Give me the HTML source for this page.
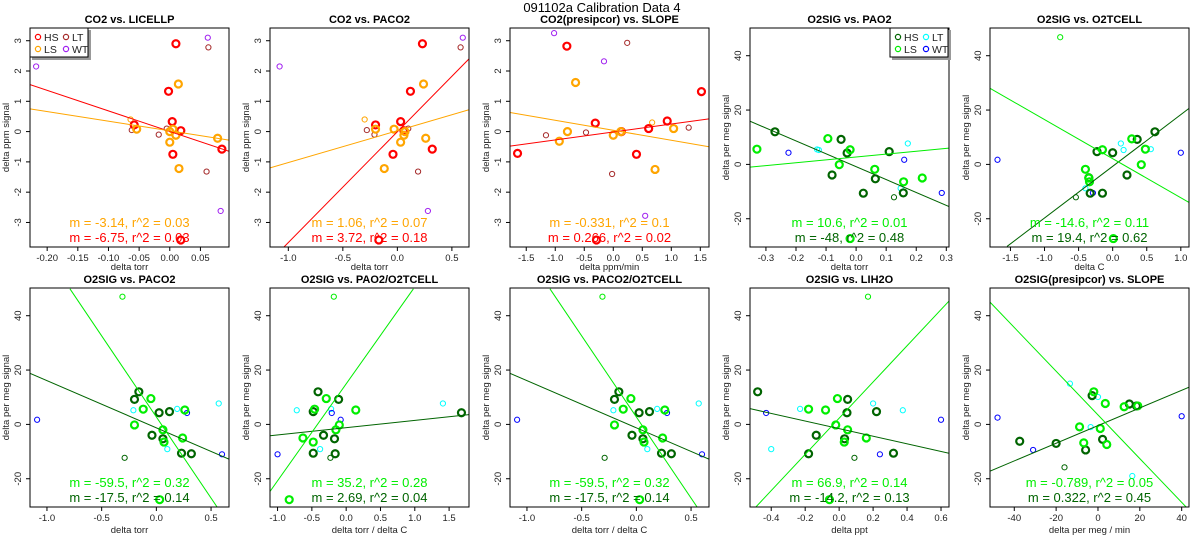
<!DOCTYPE html>
<html><head><meta charset="utf-8"><style>
body{margin:0;background:#fff;width:1200px;height:550px;overflow:hidden}
svg text{font-family:"Liberation Sans",Arial,sans-serif}
</style></head><body>
<svg id="chart" width="1200" height="550" xmlns="http://www.w3.org/2000/svg">
<text x="602" y="12" text-anchor="middle" font-size="13">091102a   Calibration Data 4</text>
</svg>
<script>
// ---- Panel data (x, y in data units) ----
const p1_hs=[[0.01,2.9],[-0.002,1.33],[0.004,0.33],[-0.058,0.22],[0.018,0.03],[0.005,-0.75],[0.085,-0.58],[0.018,-3.58]];
const p1_ls=[[0.014,1.57],[-0.054,0.08],[0.005,0.08],[0.0,0.0],[0.01,-0.12],[0.0,-0.35],[0.078,-0.22],[0.015,-1.22]];
const p1_lst=[[-0.064,0.4]];
const p1_lt=[[-0.062,0.05],[-0.018,-0.1],[-0.005,0.1],[0.063,2.78],[0.06,-1.32]];
const p1_wt=[[-0.218,2.15],[0.062,3.1],[0.083,-2.62]];
const p1_lines=[[-0.228,1.55,0.0966,-0.65],[-0.228,0.75,0.0966,-0.28]];

const p2_hs=[[0.23,2.9],[0.12,1.33],[0.03,0.33],[-0.2,0.22],[-0.04,-0.75],[0.32,-0.58],[-0.17,-3.58],[0.06,0.03]];
const p2_ls=[[0.24,1.57],[-0.2,0.08],[-0.03,0.08],[0.06,-0.12],[0.03,-0.35],[0.26,-0.22],[-0.12,-1.22],[0.07,0.0]];
const p2_lst=[[-0.3,0.4]];
const p2_lt=[[-0.28,0.05],[-0.21,-0.1],[0.1,0.1],[0.58,2.78],[0.19,-1.32]];
const p2_wt=[[-1.08,2.15],[0.6,3.1],[0.28,-2.62]];
const p2_lines=[[-1.04,-3.81,0.657,2.4],[-1.168,-1.2,0.657,0.72]];

const p3_hs=[[-0.8,2.82],[1.52,1.32],[-0.31,0.28],[0.61,0.1],[0.93,0.35],[0.4,-0.75],[-1.65,-0.72],[-0.29,-3.58],[0.14,0]];
const p3_ls=[[-0.65,1.62],[-0.79,0],[-0.93,-0.32],[0,-0.12],[0.13,0],[1.04,0.1],[0.72,-1.25]];
const p3_lst=[[0.67,0.3]];
const p3_lt=[[-1.16,-0.12],[-0.47,-0.03],[0.24,2.93],[-0.02,-1.4],[1.3,0.13]];
const p3_wt=[[-1.02,3.25],[-0.16,2.32],[0.55,-2.78]];
const p3_lines=[[-1.78,-0.48,1.65,0.42],[-1.78,0.63,1.65,-0.5]];

const p4_hs=[[-0.27,12],[-0.05,9.2],[-0.03,4.2],[-0.08,-3.9],[0.064,-5.3],[0.11,4.7],[0.024,-10.6],[0.157,-10.5]];
const p4_ls=[[-0.33,5.6],[-0.094,9.5],[-0.02,5.4],[-0.056,-0.1],[0.062,-1.8],[0.158,-6.4],[0.22,-5],[-0.02,-27.3]];
const p4_hst=[[0.126,-12.1]];
const p4_lst=[];
const p4_lt=[[-0.13,5.5],[-0.124,5.3],[0.172,7.7],[0.148,-8.8]];
const p4_wt=[[-0.225,4.3],[0.16,1.7],[0.285,-10.5]];
const p4_lines=[[-0.353,15.9,0.309,-15.5],[-0.353,-1,0.309,6]];

const p5_hs=[[0.62,12],[0.36,9.2],[0,4.3],[-0.23,4.7],[0.21,-3.9],[-0.15,-10.6],[-0.33,-10.6],[-0.35,-4.9]];
const p5_ls=[[0.28,9.4],[0.48,5.6],[-0.15,5.4],[0.42,-0.1],[-0.4,-1.8],[-0.34,-6.4],[-0.35,-5],[0.01,-27.3]];
const p5_hst=[[-0.54,-12.1]];
const p5_lst=[[-0.77,46.8]];
const p5_lt=[[0.12,7.7],[0.16,5.3],[0.56,5.6],[-0.4,-8.8]];
const p5_wt=[[-1.69,1.7],[1.0,4.3],[-0.29,-10.5]];
const p5_lines=[[-1.55,-30.2,1.12,20.6],[-1.8,28,1.12,-14]];

const p6_hs=[[-0.16,12],[-0.2,9.2],[0.025,4.3],[0.12,4.7],[-0.04,-4],[0.06,-5.3],[0.23,-10.6],[0.32,-10.8]];
const p6_ls=[[-0.05,9.5],[-0.12,5.6],[0.26,5.3],[-0.2,-0.2],[0.06,-2],[0.24,-5],[0.07,-6.5],[0.03,-27.7]];
const p6_hst=[[-0.29,-12.3]];
const p6_lst=[[-0.31,47]];
const p6_lt=[[-0.21,5.2],[0.19,5.7],[0.57,7.7],[0.1,-9.1]];
const p6_wt=[[-1.09,1.7],[0.28,4.2],[0.6,-11]];
const p6_lines=[[-1.155,18.8,0.664,-12.8],[-0.79,49.9,0.56,-30.7]];

const p7_hs=[[-0.41,12],[-0.11,9.2],[-0.48,4.7],[1.68,4.3],[-0.33,-4],[-0.17,-5.3],[-0.48,-10.6],[-0.16,-10.8]];
const p7_ls=[[-0.29,9.5],[-0.46,5.6],[0.14,5.3],[-0.1,-0.2],[-0.15,-2],[-0.63,-5],[-0.48,-6.5],[-0.83,-27.7]];
const p7_hst=[[-0.23,-12.3]];
const p7_lst=[[-0.18,47]];
const p7_lt=[[-0.72,5.2],[-0.22,5.7],[1.41,7.7],[-0.38,-9.1]];
const p7_wt=[[-1.0,-11],[-0.21,4.2],[-0.08,1.7]];
const p7_lines=[[-1.11,-4.2,1.79,3.6],[-1.11,-24.7,0.98,49.9]];

const p9_hs=[[-0.48,12],[0.05,9.2],[0.046,4.3],[0.22,4.7],[-0.135,-4],[0.032,-5.3],[-0.18,-10.8],[0.32,-10.6]];
const p9_ls=[[-0.01,9.5],[-0.18,5.6],[-0.08,5.3],[-0.02,-0.2],[0.05,-2],[0.16,-5],[0.03,-6.5],[-0.057,-27.7]];
const p9_hst=[[0.09,-12.3]];
const p9_lst=[[0.17,47]];
const p9_lt=[[-0.23,5.7],[0.2,7.7],[0.375,5.2],[-0.4,-9.1]];
const p9_wt=[[-0.43,4.2],[0.24,-11],[0.6,1.7]];
const p9_lines=[[-0.525,5.8,0.647,-10.6],[-0.495,-30.7,0.647,45.4]];

const p10_hs=[[-2.8,10.6],[15,7.5],[18.4,6.8],[2.2,-5.5],[-5.9,-9.4],[-20,-7],[-37.4,-6.2]];
const p10_ls=[[-2,12],[3.5,7.7],[12.5,6.5],[-8.8,-0.9],[1.1,-1.5],[-6.8,-6.8],[4.2,-7.4],[19,6.8]];
const p10_hst=[[-16,-15.8]];
const p10_lst=[];
const p10_lt=[[-13.4,15],[0,10.1],[-3.5,-1],[16.4,-19]];
const p10_wt=[[-48,2.5],[-31,-9.4],[40,3]];
const p10_lines=[[-51.6,-17.2,43.5,13.7],[-51.6,45,42.5,-30.7]];

// ---- Tick labels ----
const ticksP1=[-0.20,-0.15,-0.10,-0.05,0.00,0.05];
const ticksTorr=[-1.0,-0.5,0.0,0.5];
const ticksSlope=[-1.5,-1.0,-0.5,0.0,0.5,1.0,1.5];
const ticksP4=[-0.3,-0.2,-0.1,0.0,0.1,0.2,0.3];
const ticksP5=[-1.5,-1.0,-0.5,0.0,0.5,1.0];
const ticksP7=[-1.0,-0.5,0.0,0.5,1.0,1.5];
const ticksP9=[-0.4,-0.2,0.0,0.2,0.4,0.6];
const ticksP10=[-40,-20,0,20,40];
const yticksCO2=[-3,-2,-1,0,1,2,3];
const yticksO2=[-20,0,20,40];

const svg=document.getElementById('chart');
const NS='http://www.w3.org/2000/svg';
function mk(tag,attrs,parent){const e=document.createElementNS(NS,tag);for(const k in attrs)e.setAttribute(k,attrs[k]);(parent||svg).appendChild(e);return e;}

const CO2C={hs:'#ff0000',ls:'#ffa500',lt:'#a52a2a',wt:'#a020f0'};
const O2C={hs:'#006400',ls:'#00ee00',lt:'#00ffff',wt:'#0000ff'};

function panel(i,row,cfg){
  const L=240*(i%5)+30,R=L+199,T=row?288:28,B=row?507:247;
  const sx=v=>L+(v-cfg.xl[0])/(cfg.xl[1]-cfg.xl[0])*(R-L);
  const sy=v=>B-(v-cfg.yl[0])/(cfg.yl[1]-cfg.yl[0])*(B-T);
  const g=mk('g',{});
  
  
  const t=mk('text',{x:(L+R)/2,y:T-5,'text-anchor':'middle','font-size':11,'font-weight':'bold'},g);t.textContent=cfg.title;
  
  
  const cid='clip'+i;const cp=mk('clipPath',{id:cid},g);mk('rect',{x:L,y:T,width:R-L,height:B-T},cp);
  const C=cfg.c;
  cfg.xt.forEach(v=>{const x=sx(v);mk('line',{x1:x,x2:x,y1:B,y2:B+4,stroke:'#000'},g);
    const tx=mk('text',{x:x,y:B+14,'text-anchor':'middle','font-size':9.5,fill:'#222'},g);tx.textContent=cfg.xf(v);
    
    });
  mk('line',{x1:sx(cfg.xt[0]),x2:sx(cfg.xt[cfg.xt.length-1]),y1:B,y2:B,stroke:'#000'},g);
  cfg.yt.forEach(v=>{const y=sy(v);mk('line',{x1:L-4,x2:L,y1:y,y2:y,stroke:'#000'},g);
    const ty=mk('text',{x:0,y:0,'text-anchor':'middle','font-size':9.5,fill:'#222',transform:`translate(${L-9},${y}) rotate(-90)`},g);ty.textContent=String(v);
    
    });
  const xl=mk('text',{x:(L+R)/2,y:row?533:270,'text-anchor':'middle','font-size':9.5,fill:'#222'},g);xl.textContent=cfg.xlab;
  
  
  const yl=mk('text',{x:0,y:0,'text-anchor':'middle','font-size':9.5,fill:'#222',transform:`translate(${L-21},${(T+B)/2}) rotate(-90)`},g);yl.textContent=cfg.ylab;
  
  
  const pg=mk('g',{'clip-path':`url(#${cid})`},g);
  const pts=(arr,col,thick,nm)=>arr.forEach(p=>{const c=mk('circle',{cx:sx(p[0]),cy:sy(p[1]),r:thick?3.5:2.6,fill:'none',stroke:col,'stroke-width':thick?2.2:1},pg);
    
    });
  pts(cfg.lt,C.lt,false,'lt');pts(cfg.wt,C.wt,false,'wt');
  pts(cfg.hst||[],C.hs,false,'hs');pts(cfg.lst||[],C.ls,false,'ls');
  pts(cfg.hs,C.hs,true,'hs');pts(cfg.ls,C.ls,true,'ls');
  [[cfg.lines[0],C.hs,'hs-fit-line'],[cfg.lines[1],C.ls,'ls-fit-line']].forEach(([l,col,nm])=>{
    const ln=mk('line',{x1:sx(l[0]),y1:sy(l[1]),x2:sx(l[2]),y2:sy(l[3]),stroke:col,'stroke-width':1},pg);
    
    });
  mk('rect',{x:L,y:T,width:R-L,height:B-T,fill:'none',stroke:'#000','stroke-width':1},g);
  const a1=mk('text',{x:(L+R)/2,y:B-20,'text-anchor':'middle','font-size':13,fill:C.ls},g);a1.textContent=cfg.txt[0];
  
  
  const a2=mk('text',{x:(L+R)/2,y:B-5,'text-anchor':'middle','font-size':13,fill:C.hs},g);a2.textContent=cfg.txt[1];
  
  
  if(cfg.legend){
    const lx=cfg.legend==='left'?L:R-59,ly=T;
    const lg=mk('g',{},g);
    
    
    mk('rect',{x:lx+2,y:ly+2,width:59,height:30,fill:'#999'},lg);
    mk('rect',{x:lx,y:ly,width:58,height:29,fill:'#fff',stroke:'#000'},lg);
    [['HS',C.hs,0,0],['LS',C.ls,0,1],['LT',C.lt,1,0],['WT',C.wt,1,1]].forEach(([n,col,cx,cy])=>{
      const ex=lx+8+cx*28,ey=ly+9+cy*12;
      const ci=mk('circle',{cx:ex,cy:ey,r:2.6,fill:'none',stroke:col,'stroke-width':1.2},lg);
      
      
      const tt=mk('text',{x:ex+6,y:ey+4,'font-size':10.5,fill:'#222'},lg);tt.textContent=n;
      
      
    });
  }
}
const f2=v=>v.toFixed(2),f1=v=>v.toFixed(1),f0=v=>String(v);
const CY=[-3.81,3.42],OY=[-30.4,50.2];
panel(0,0,{id:'co2-licellp',title:'CO2 vs. LICELLP',xl:[-0.228,0.0966],yl:CY,xt:ticksP1,yt:yticksCO2,xf:f2,xlab:'delta torr',ylab:'delta ppm signal',c:CO2C,hs:p1_hs,ls:p1_ls,lst:p1_lst,lt:p1_lt,wt:p1_wt,lines:p1_lines,txt:['m = -3.14, r^2 = 0.03','m = -6.75, r^2 = 0.03'],legend:'left'});
panel(1,0,{id:'co2-paco2',title:'CO2 vs. PACO2',xl:[-1.168,0.657],yl:CY,xt:ticksTorr,yt:yticksCO2,xf:f1,xlab:'delta torr',ylab:'delta ppm signal',c:CO2C,hs:p2_hs,ls:p2_ls,lst:p2_lst,lt:p2_lt,wt:p2_wt,lines:p2_lines,txt:['m = 1.06, r^2 = 0.07','m = 3.72, r^2 = 0.18']});
panel(2,0,{id:'co2-slope',title:'CO2(presipcor) vs. SLOPE',xl:[-1.78,1.65],yl:CY,xt:ticksSlope,yt:yticksCO2,xf:f1,xlab:'delta ppm/min',ylab:'delta ppm signal',c:CO2C,hs:p3_hs,ls:p3_ls,lst:p3_lst,lt:p3_lt,wt:p3_wt,lines:p3_lines,txt:['m = -0.331, r^2 = 0.1','m = 0.266, r^2 = 0.02']});
panel(3,0,{id:'o2sig-pao2',title:'O2SIG vs. PAO2',xl:[-0.353,0.309],yl:OY,xt:ticksP4,yt:yticksO2,xf:f1,xlab:'delta torr',ylab:'delta per meg signal',c:O2C,hs:p4_hs,ls:p4_ls,hst:p4_hst,lst:p4_lst,lt:p4_lt,wt:p4_wt,lines:p4_lines,txt:['m = 10.6, r^2 = 0.01','m = -48, r^2 = 0.48'],legend:'right'});
panel(4,0,{id:'o2sig-o2tcell',title:'O2SIG vs. O2TCELL',xl:[-1.8,1.12],yl:OY,xt:ticksP5,yt:yticksO2,xf:f1,xlab:'delta C',ylab:'delta per meg signal',c:O2C,hs:p5_hs,ls:p5_ls,hst:p5_hst,lst:p5_lst,lt:p5_lt,wt:p5_wt,lines:p5_lines,txt:['m = -14.6, r^2 = 0.11','m = 19.4, r^2 = 0.62']});
panel(5,1,{id:'o2sig-paco2',title:'O2SIG vs. PACO2',xl:[-1.155,0.664],yl:OY,xt:ticksTorr,yt:yticksO2,xf:f1,xlab:'delta torr',ylab:'delta per meg signal',c:O2C,hs:p6_hs,ls:p6_ls,hst:p6_hst,lst:p6_lst,lt:p6_lt,wt:p6_wt,lines:p6_lines,txt:['m = -59.5, r^2 = 0.32','m = -17.5, r^2 = 0.14']});
panel(6,1,{id:'o2sig-pao2-o2tcell',title:'O2SIG vs. PAO2/O2TCELL',xl:[-1.11,1.79],yl:OY,xt:ticksP7,yt:yticksO2,xf:f1,xlab:'delta torr / delta C',ylab:'delta per meg signal',c:O2C,hs:p7_hs,ls:p7_ls,hst:p7_hst,lst:p7_lst,lt:p7_lt,wt:p7_wt,lines:p7_lines,txt:['m = 35.2, r^2 = 0.28','m = 2.69, r^2 = 0.04']});
panel(7,1,{id:'o2sig-paco2-o2tcell',title:'O2SIG vs. PACO2/O2TCELL',xl:[-1.155,0.664],yl:OY,xt:ticksTorr,yt:yticksO2,xf:f1,xlab:'delta torr / delta C',ylab:'delta per meg signal',c:O2C,hs:p6_hs,ls:p6_ls,hst:p6_hst,lst:p6_lst,lt:p6_lt,wt:p6_wt,lines:p6_lines,txt:['m = -59.5, r^2 = 0.32','m = -17.5, r^2 = 0.14']});
panel(8,1,{id:'o2sig-lih2o',title:'O2SIG vs. LIH2O',xl:[-0.525,0.647],yl:OY,xt:ticksP9,yt:yticksO2,xf:f1,xlab:'delta ppt',ylab:'delta per meg signal',c:O2C,hs:p9_hs,ls:p9_ls,hst:p9_hst,lst:p9_lst,lt:p9_lt,wt:p9_wt,lines:p9_lines,txt:['m = 66.9, r^2 = 0.14','m = -14.2, r^2 = 0.13']});
panel(9,1,{id:'o2sig-slope',title:'O2SIG(presipcor) vs. SLOPE',xl:[-51.6,43.5],yl:OY,xt:ticksP10,yt:yticksO2,xf:f0,xlab:'delta per meg / min',ylab:'delta per meg signal',c:O2C,hs:p10_hs,ls:p10_ls,hst:p10_hst,lst:p10_lst,lt:p10_lt,wt:p10_wt,lines:p10_lines,txt:['m = -0.789, r^2 = 0.05','m = 0.322, r^2 = 0.45']});
</script>
</body></html>
